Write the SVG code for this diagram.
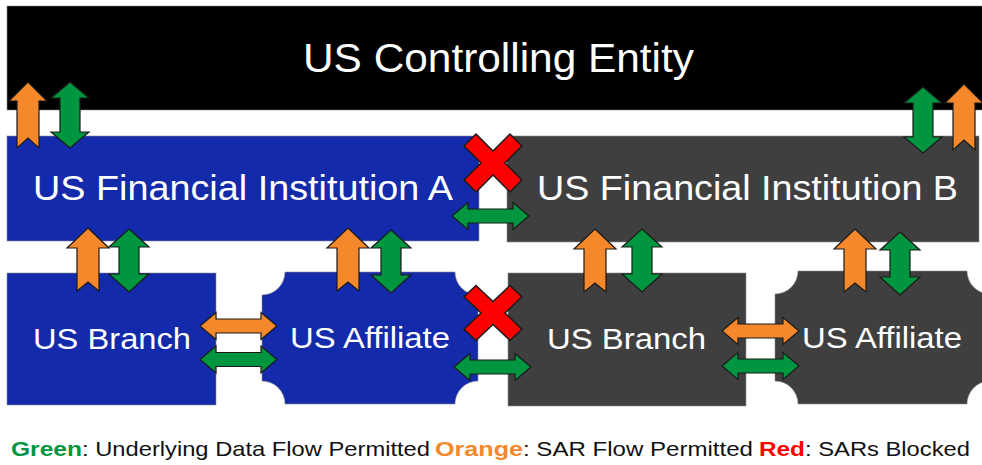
<svg xmlns="http://www.w3.org/2000/svg" xmlns:xlink="http://www.w3.org/1999/xlink" width="982" height="465" viewBox="0 0 982 465">
  <style>
    .box { stroke: #8c8c8c; stroke-width: 0.6; }
    .blue { fill: #132AAA; }
    .gray { fill: #3F3F3F; }
    .black { fill: #000000; }
    .lbl { font-family: "Liberation Sans", Arial, sans-serif; fill: #ffffff; }
    .ao { fill: #F5882A; stroke: #1a1a1a; stroke-width: 1.2; stroke-linejoin: miter; }
    .ag { fill: #00963F; stroke: #1a1a1a; stroke-width: 1.2; stroke-linejoin: miter; }
    .ax { fill: #FF0000; stroke: #1a1a1a; stroke-width: 1.5; stroke-linejoin: miter; }
    .leg { font-family: "Liberation Sans", Arial, sans-serif; font-size: 21px; fill: #111111; }
    .lb { font-weight: bold; }
  </style>
  <defs>
    <polygon id="upO" points="0,0 21,20 11,20 11,63 0,54 -11,63 -11,20 -21,20"/>
    <polygon id="vG" points="0,0 20,18 10,18 10,45 20,45 0,63 -20,45 -10,45 -10,18 -20,18"/>
    <polygon id="upOL" points="0,0 19,19 11,19 11,66 0,56 -11,66 -11,19 -19,19"/>
    <polygon id="vGL" points="0,0 19,16 10,16 10,50 19,50 0,66 -19,50 -10,50 -10,16 -19,16"/>
    <polygon id="hD" points="0,0 16,-13.5 16,-7 61,-7 61,-13.5 77,0 61,13.5 61,7 16,7 16,13.5"/>
    <polygon id="xR" points="-29,-17 -17,-29 0,-12 17,-29 29,-17 12,0 29,17 17,29 0,12 -17,29 -29,17 -12,0"/>
  </defs>
  <rect x="0" y="0" width="982" height="465" fill="#ffffff"/>

  <g id="us-controlling-entity">
    <rect class="box black" x="7" y="6" width="980" height="104"/>
    <text class="lbl" x="303" y="72" font-size="40" textLength="391" lengthAdjust="spacingAndGlyphs">US Controlling Entity</text>
  </g>

  <g id="us-fi-a">
    <rect class="box blue" x="7" y="136" width="472" height="105"/>
    <text class="lbl" x="33" y="200" font-size="35" textLength="420" lengthAdjust="spacingAndGlyphs">US Financial Institution A</text>
  </g>

  <g id="us-fi-b">
    <rect class="box gray" x="507" y="136" width="472" height="106"/>
    <text class="lbl" x="537" y="200" font-size="35" textLength="421" lengthAdjust="spacingAndGlyphs">US Financial Institution B</text>
  </g>

  <g id="us-branch-a">
    <rect class="box blue" x="7" y="273" width="209" height="132"/>
    <text class="lbl" x="33" y="349" font-size="30" textLength="158" lengthAdjust="spacingAndGlyphs">US Branch</text>
  </g>

  <g id="us-affiliate-a">
    <path class="box blue" d="M285,272 H455 A23,23 0 0 0 478,295 V381 A23,23 0 0 0 455,404 H285 A23,23 0 0 0 262,381 V295 A23,23 0 0 0 285,272 Z"/>
    <text class="lbl" x="290" y="348" font-size="30" textLength="160" lengthAdjust="spacingAndGlyphs">US Affiliate</text>
  </g>

  <g id="us-branch-b">
    <rect class="box gray" x="508" y="273" width="238" height="133"/>
    <text class="lbl" x="547" y="349" font-size="30" textLength="159" lengthAdjust="spacingAndGlyphs">US Branch</text>
  </g>

  <g id="us-affiliate-b">
    <path class="box gray" d="M798,271 H967 A23,23 0 0 0 990,294 V381 A23,23 0 0 0 967,404 H798 A23,23 0 0 0 775,381 V294 A23,23 0 0 0 798,271 Z"/>
    <text class="lbl" x="802" y="348" font-size="30" textLength="160" lengthAdjust="spacingAndGlyphs">US Affiliate</text>
  </g>

  <g id="connectors">
    <!-- Controlling entity to FI A -->
    <use xlink:href="#upOL" href="#upOL" class="ao" transform="translate(28,82)"/>
    <use xlink:href="#vGL" href="#vGL" class="ag" transform="translate(70,82)"/>
    <!-- Controlling entity to FI B -->
    <use xlink:href="#vGL" href="#vGL" class="ag" transform="translate(923,87)"/>
    <use xlink:href="#upOL" href="#upOL" class="ao" transform="translate(964,84)"/>
    <!-- FI A to Branch A -->
    <use xlink:href="#upO" href="#upO" class="ao" transform="translate(88,228)"/>
    <use xlink:href="#vG" href="#vG" class="ag" transform="translate(129,229)"/>
    <!-- FI A to Affiliate A -->
    <use xlink:href="#upO" href="#upO" class="ao" transform="translate(348,228)"/>
    <use xlink:href="#vG" href="#vG" class="ag" transform="translate(391,230)"/>
    <!-- FI B to Branch B -->
    <use xlink:href="#upO" href="#upO" class="ao" transform="translate(595,229)"/>
    <use xlink:href="#vG" href="#vG" class="ag" transform="translate(642,229)"/>
    <!-- FI B to Affiliate B -->
    <use xlink:href="#upO" href="#upO" class="ao" transform="translate(855,229)"/>
    <use xlink:href="#vG" href="#vG" class="ag" transform="translate(900,232)"/>
    <!-- Branch A to Affiliate A -->
    <use xlink:href="#hD" href="#hD" class="ao" transform="translate(200,326)"/>
    <use xlink:href="#hD" href="#hD" class="ag" transform="translate(200,359.5)"/>
    <!-- FI A to FI B -->
    <use xlink:href="#hD" href="#hD" class="ag" transform="translate(452,216)"/>
    <!-- Affiliate A to Branch B -->
    <use xlink:href="#hD" href="#hD" class="ag" transform="translate(454,367)"/>
    <!-- Branch B to Affiliate B -->
    <use xlink:href="#hD" href="#hD" class="ao" transform="translate(722,331)"/>
    <use xlink:href="#hD" href="#hD" class="ag" transform="translate(722,366)"/>
    <!-- Blocked -->
    <use xlink:href="#xR" href="#xR" class="ax" transform="translate(493,163)"/>
    <use xlink:href="#xR" href="#xR" class="ax" transform="translate(493,313) scale(1,0.95)"/>
  </g>

  <g id="legend">
    <text class="leg" y="456">
      <tspan class="lb" x="11" fill="#00963F" textLength="71" lengthAdjust="spacingAndGlyphs">Green</tspan>
      <tspan x="82" textLength="348" lengthAdjust="spacingAndGlyphs">: Underlying Data Flow Permitted</tspan>
      <tspan class="lb" x="435" fill="#F5882A" textLength="88" lengthAdjust="spacingAndGlyphs">Orange</tspan>
      <tspan x="523" textLength="230" lengthAdjust="spacingAndGlyphs">: SAR Flow Permitted</tspan>
      <tspan class="lb" x="759" fill="#FF0000" textLength="46" lengthAdjust="spacingAndGlyphs">Red</tspan>
      <tspan x="805" textLength="165" lengthAdjust="spacingAndGlyphs">: SARs Blocked</tspan>
    </text>
  </g>
</svg>
